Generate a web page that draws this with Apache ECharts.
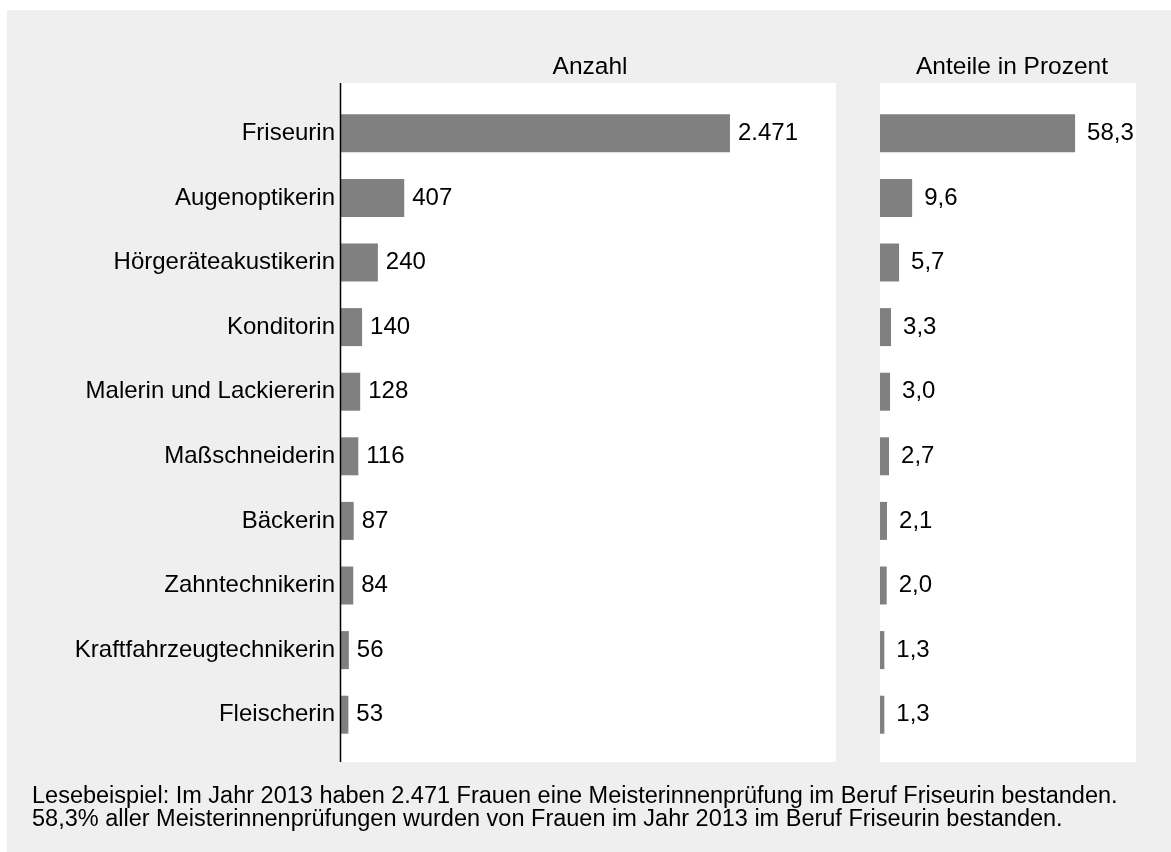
<!DOCTYPE html>
<html><head><meta charset="utf-8">
<script src="https://cdn.jsdelivr.net/npm/echarts@6/dist/echarts.min.js"></script>
<style>html,body{margin:0;padding:0;background:#fff}#c{width:1171px;height:852px}</style>
</head><body><div id="c"></div>
<script>
const categories = ["Friseurin","Augenoptikerin","Hörgeräteakustikerin","Konditorin","Malerin und Lackiererin","Maßschneiderin","Bäckerin","Zahntechnikerin","Kraftfahrzeugtechnikerin","Fleischerin"];
const anzahl = [2471,407,240,140,128,116,87,84,56,53];
const prozent = [58.3,9.6,5.7,3.3,3.0,2.7,2.1,2.0,1.3,1.3];
const titleLeft = "Anzahl";
const titleRight = "Anteile in Prozent";
const note1 = "Lesebeispiel: Im Jahr 2013 haben 2.471 Frauen eine Meisterinnenprüfung im Beruf Friseurin bestanden.";
const note2 = "58,3% aller Meisterinnenprüfungen wurden von Frauen im Jahr 2013 im Beruf Friseurin bestanden.";

const FONT = "Liberation Sans, Arial, sans-serif";
const fmtDE = v => v.toLocaleString('de-DE');
const fmtPct = v => v.toFixed(1).replace('.', ',');

const chart = echarts.init(document.getElementById('c'), null, {renderer:'canvas'});
const TOP = 101, H = 646;
chart.setOption({
  animation:false,
  backgroundColor:'#fff',
  graphic:[
    {type:'rect', z:-10, shape:{x:7,y:10,width:1164,height:842}, style:{fill:'#efefef'}},
    {type:'rect', z:-9, shape:{x:340,y:83,width:496,height:679}, style:{fill:'#fff'}},
    {type:'rect', z:-9, shape:{x:880,y:83,width:256,height:679}, style:{fill:'#fff'}},
    {type:'line', z:10, shape:{x1:340.5,y1:83,x2:340.5,y2:762}, style:{stroke:'#000',lineWidth:1.5}},
    {type:'text', left:32, top:785, style:{text:note1+"\n"+note2, font:"23.5px "+FONT, fill:'#000', lineHeight:23}},
    {type:'text', x:590, y:67, style:{text:titleLeft, font:"24.5px "+FONT, fill:'#000', align:'center', verticalAlign:'middle'}},
    {type:'text', x:1012, y:67, style:{text:titleRight, font:"24.5px "+FONT, fill:'#000', align:'center', verticalAlign:'middle'}}
  ],
  grid:[
    {left:340, width:496, top:TOP, height:H},
    {left:880, width:256, top:TOP, height:H}
  ],
  xAxis:[
    {gridIndex:0, type:'value', min:0, max:3143, show:false},
    {gridIndex:1, type:'value', min:0, max:76.5, show:false}
  ],
  yAxis:[
    {gridIndex:0, type:'category', data:categories, inverse:true, axisLine:{show:false}, axisTick:{show:false},
     axisLabel:{fontFamily:FONT,fontSize:24,color:'#000',margin:5}},
    {gridIndex:1, type:'category', data:categories, inverse:true, show:false}
  ],
  series:[
    {type:'bar', xAxisIndex:0, yAxisIndex:0, data:anzahl, barWidth:38, itemStyle:{color:'#808080'},
     label:{show:true, position:'right', distance:8, formatter:p=>fmtDE(p.value), fontFamily:FONT, fontSize:24, color:'#000'}},
    {type:'bar', xAxisIndex:1, yAxisIndex:1, data:prozent, barWidth:38, itemStyle:{color:'#808080'},
     label:{show:true, position:'right', distance:12, formatter:p=>fmtPct(p.value), fontFamily:FONT, fontSize:24, color:'#000'}}
  ]
});
</script></body></html>
